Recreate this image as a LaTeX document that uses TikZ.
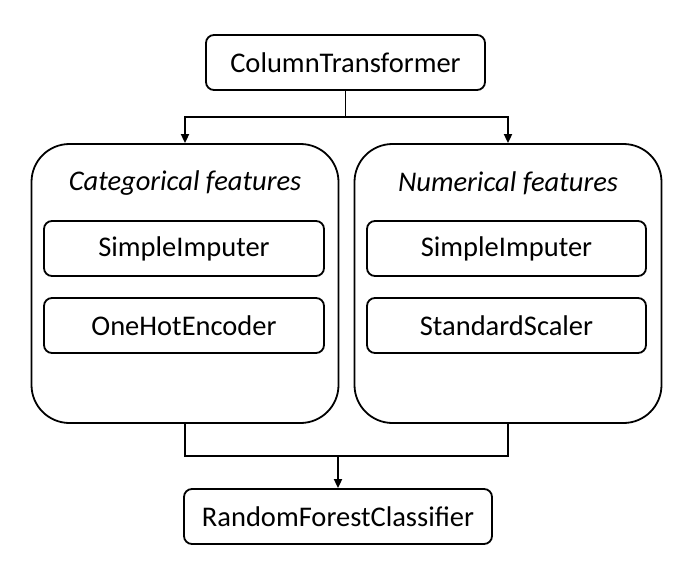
\documentclass[tikz,border=0pt]{standalone}
\usepackage{fontspec}
\setmainfont{Carlito}
\usetikzlibrary{arrows.meta}

\begin{document}
\begin{tikzpicture}[x=1pt, y=-1pt, line width=1.8pt,
  step box/.style={draw, rounded corners=8pt, minimum height=55pt, font=\fontsize{28.5}{32}\selectfont, inner sep=0pt},
  group box/.style={draw, rounded corners=38pt, minimum width=307pt, minimum height=279pt},
  group title/.style={font=\fontsize{28.5}{32}\selectfont\itshape},
  arr/.style={-{Triangle[width=8pt,length=9pt]}}]
\useasboundingbox (0,0) rectangle (690,575);
\node [step box, minimum width=279pt] (ct) at (345.5,62.5) {ColumnTransformer};
\node [group box] (cat) at (185,283.5) {};
\node [group box] (num) at (508,283.5) {};
\node [group title] (cattitle) at (185,183) {Categorical features};
\node [group title] (numtitle) at (508,183) {Numerical features};
\node [step box, minimum width=280pt] (catimp) at (184,248.5) {SimpleImputer};
\node [step box, minimum width=280pt] (ohe) at (184,325.5) {OneHotEncoder};
\node [step box, minimum width=279pt] (numimp) at (506.5,248.5) {SimpleImputer};
\node [step box, minimum width=279pt] (scaler) at (506.5,325.5) {StandardScaler};
\node [step box, minimum width=308pt] (rf) at (338,516.5) {RandomForestClassifier};
\coordinate (split) at (345.5,117);
\coordinate (join) at (338,456);
\draw (ct) -- (split);
\draw [arr] (split) -| (cat);
\draw [arr] (split) -| (num);
\draw (cat) |- (join);
\draw (num) |- (join);
\draw [arr] (join) -- (rf);
\end{tikzpicture}
\end{document}
